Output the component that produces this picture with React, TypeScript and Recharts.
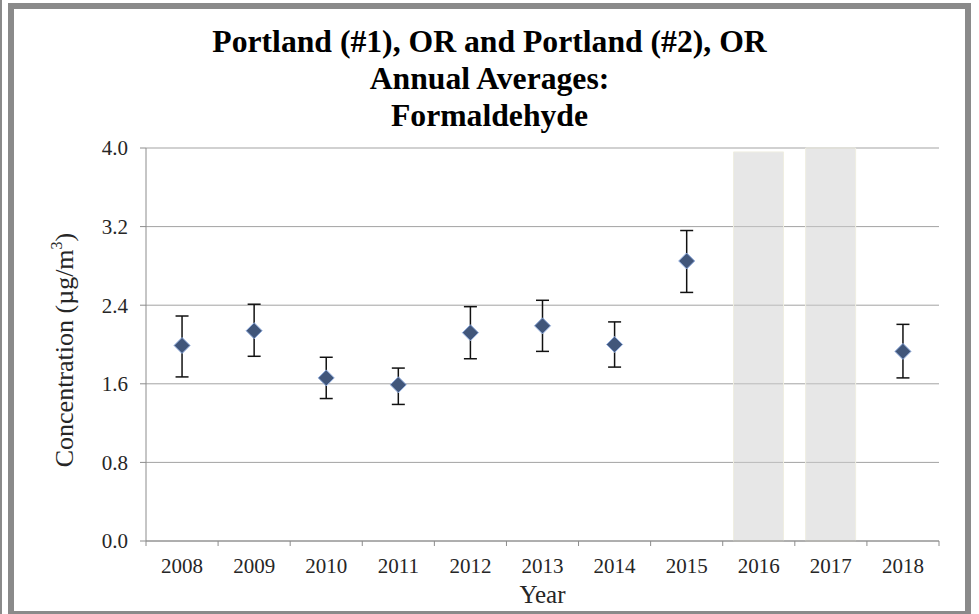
import React from 'react';
import { ComposedChart, Bar, Scatter, ErrorBar, XAxis, YAxis, CartesianGrid } from 'recharts';

const years = ['2008', '2009', '2010', '2011', '2012', '2013', '2014', '2015', '2016', '2017', '2018'];
const average = [1.99, 2.14, 1.66, 1.59, 2.12, 2.19, 2.0, 2.85, null, null, 1.93];
const lowerBound = [1.67, 1.88, 1.45, 1.39, 1.855, 1.93, 1.77, 2.53, null, null, 1.66];
const upperBound = [2.29, 2.41, 1.87, 1.76, 2.385, 2.45, 2.23, 3.16, null, null, 2.205];
const noDataShade = [null, null, null, null, null, null, null, null, 3.96, 4.0, null];
const yTicks = [0, 0.8, 1.6, 2.4, 3.2, 4.0];
const titleLines = ['Portland (#1), OR and Portland (#2), OR', 'Annual Averages:', 'Formaldehyde'];

const W = 979;
const H = 614;
const PLOT_LEFT = 146;
const PLOT_RIGHT = 939;
const BAND = (PLOT_RIGHT - PLOT_LEFT) / years.length;

const tableData = years.map((y, i) => ({ year: y, shade: noDataShade[i] }));
const pointData = years
  .map((y, i) => ({
    year: y,
    avg: average[i],
    err: average[i] == null ? null : [average[i]! - lowerBound[i]!, upperBound[i]! - average[i]!],
  }))
  .filter((d) => d.avg != null);

const FONT = '"Liberation Serif", "Times New Roman", serif';

const XTick = (props: any) => {
  const { x, y, payload, index } = props;
  const axisY = y - 5 - 8;
  const half = BAND / 2;
  return (
    <g>
      <line x1={x - half} x2={x - half} y1={axisY} y2={axisY + 5} stroke="#8c8c8c" strokeWidth={1} />
      {index === years.length - 1 && (
        <line x1={x + half} x2={x + half} y1={axisY} y2={axisY + 5} stroke="#8c8c8c" strokeWidth={1} />
      )}
      <text x={x} y={axisY + 32} textAnchor="middle" fontFamily={FONT} fontSize={21} fill="#262626">
        {payload.value}
      </text>
    </g>
  );
};

const Diamond = (props: any) => {
  const { cx, cy } = props;
  if (cx == null || cy == null) return null;
  const r = 8;
  return (
    <polygon
      points={`${cx},${cy - r} ${cx + r},${cy} ${cx},${cy + r} ${cx - r},${cy}`}
      fill="#41567a"
      stroke="#8eaadc"
      strokeWidth={1}
    />
  );
};

const YLabel = () => (
  <text
    transform={`translate(67, 350) rotate(-90)`}
    textAnchor="middle"
    dominantBaseline="middle"
    fontFamily={FONT}
    fontSize={26}
    fill="#262626"
  >
    Concentration (µg/m
    <tspan baselineShift="super" fontSize={16}>3</tspan>)
  </text>
);

export default function App() {
  return (
    <div style={{ position: 'absolute', left: 0, top: 0, width: W, height: H, background: '#fff', overflow: 'hidden' }}>
      <div style={{ position: 'absolute', left: 0, top: 0, width: 1.5, height: H, background: '#8a8a8a' }} />
      <div
        style={{
          position: 'absolute',
          left: 8,
          top: 3,
          width: 963,
          height: 614,
          boxSizing: 'border-box',
          border: '6px solid #8a8a8a',
        }}
      />
      <div
        style={{
          position: 'absolute',
          left: 0,
          top: 23,
          width: W,
          textAlign: 'center',
          fontFamily: FONT,
          fontWeight: 'bold',
          fontSize: 32,
          lineHeight: '37px',
          color: '#000',
          transform: 'scaleX(0.99)',
          transformOrigin: '488px 0',
        }}
      >
        {titleLines.map((t) => (
          <div key={t}>{t}</div>
        ))}
      </div>
      <div style={{ position: 'absolute', left: 0, top: 0 }}>
        <ComposedChart
          width={W}
          height={H}
          data={tableData}
          margin={{ top: 148, right: W - PLOT_RIGHT, bottom: 23, left: 0 }}
          barCategoryGap="15%"
        >
          <CartesianGrid vertical={false} stroke="#a3a3a3" strokeWidth={1} />
          <XAxis
            dataKey="year"
            type="category"
            height={50}
            stroke="#8c8c8c"
            tickLine={false}
            tickSize={5}
            tickMargin={8}
            tick={<XTick />}
            interval={0}
            allowDuplicatedCategory={false}
            label={{ value: 'Year', position: 'insideBottom', offset: -12, fontFamily: FONT, fontSize: 25, fill: '#262626' }}
          />
          <YAxis
            type="number"
            domain={[0, 4]}
            ticks={yTicks}
            width={PLOT_LEFT}
            stroke="#8c8c8c"
            tickSize={6}
            tickMargin={12}
            tickFormatter={(v: number) => v.toFixed(1)}
            tick={{ fontFamily: FONT, fontSize: 21, fill: '#262626' }}
            label={<YLabel />}
          />
          <Bar dataKey="shade" fill="#cfcfcf" fillOpacity={0.5} stroke="#efeee2" strokeWidth={1} isAnimationActive={false} />
          <Scatter data={pointData} dataKey="avg" shape={<Diamond />} isAnimationActive={false}>
            <ErrorBar dataKey="err" direction="y" width={6.5} stroke="#111" strokeWidth={1.5} />
          </Scatter>
        </ComposedChart>
      </div>
    </div>
  );
}
